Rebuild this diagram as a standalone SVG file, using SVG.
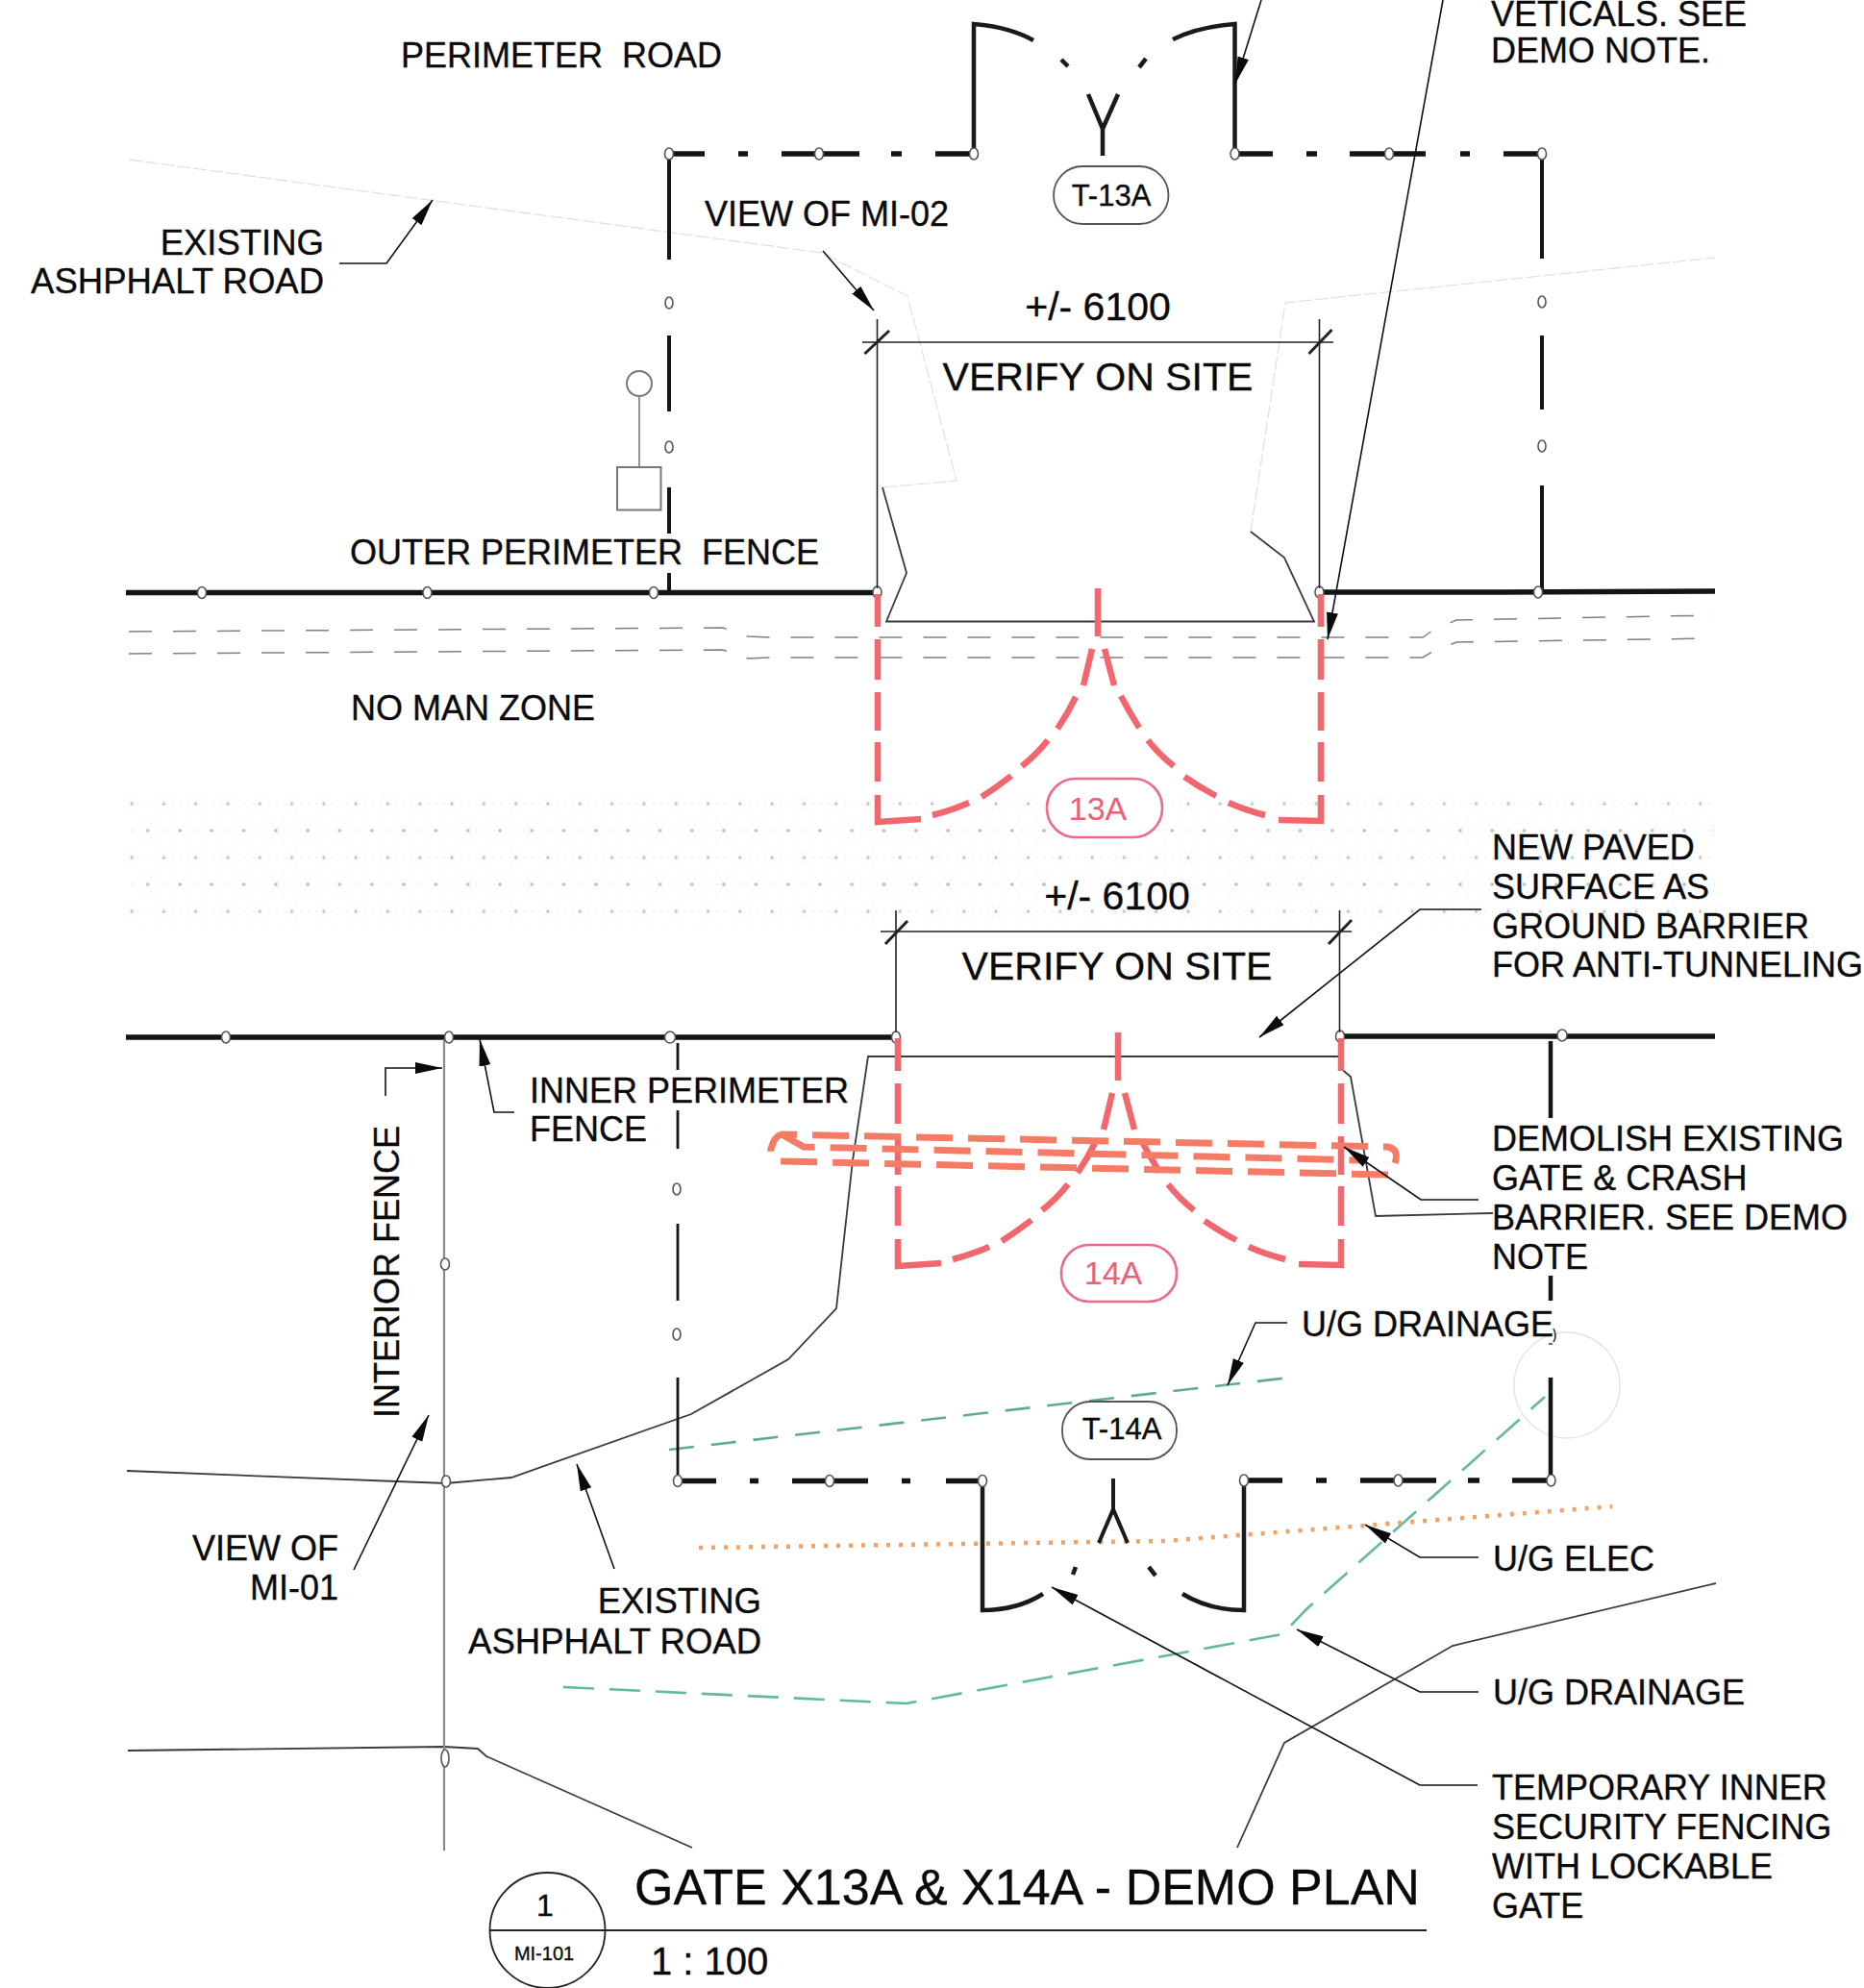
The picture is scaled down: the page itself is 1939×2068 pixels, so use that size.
<svg xmlns="http://www.w3.org/2000/svg" width="1939" height="2068" viewBox="0 0 1939 2068">
<style>
text{font-family:"Liberation Sans",Arial,sans-serif;font-size:36px;fill:#0a0a0a;stroke:#0a0a0a;stroke-width:.35;white-space:pre}
.e{text-anchor:end}.m{text-anchor:middle}
.fence{fill:none;stroke:#141414;stroke-width:5.5}
.gate{fill:none;stroke:#1a1a1a;stroke-width:4.5}
.thin{fill:none;stroke:#222;stroke-width:1.6}
.lead{fill:none;stroke:#111;stroke-width:1.6;marker-end:url(#ah)}
.road{fill:none;stroke:#3a3a3a;stroke-width:1.8}
.faint{fill:none;stroke:#e2e2e2;stroke-width:1.3;stroke-dasharray:14 3}
.ns{fill:none;stroke:#808080;stroke-width:1.5;stroke-dasharray:24 22}
.n{fill:#fff;stroke:#555;stroke-width:1.6}
.red{fill:none;stroke:#f2666e;stroke-width:6.5}
.band{fill:none;stroke:#f47c66;stroke-width:7;stroke-dasharray:38 16}
.pill{fill:#fff;stroke:#555;stroke-width:1.8}
.rp{fill:#fff;stroke:#ec6c86;stroke-width:2.6}
.rt{fill:#ec5f7a;stroke:none;font-size:34px}
</style>
<defs>
<marker id="ah" markerUnits="userSpaceOnUse" markerWidth="32" markerHeight="16" refX="28" refY="6" orient="auto"><path d="M0 0L28 6L0 12Z" fill="#0a0a0a"/></marker>
<pattern id="hatch" patternUnits="userSpaceOnUse" x="137" y="836" width="33.3" height="56">
<path d="M0 0L16.65 28L33.3 0M0 56L16.65 28L33.3 56" fill="none" stroke="#f7f7f7" stroke-width="1"/>
<path d="M0 0H33.3M0 28H33.3M0 56H33.3" fill="none" stroke="#ececec" stroke-width="1" stroke-dasharray="3 5"/>
<path d="M0 -2V2M33.3 -2V2M0 54V58M33.3 54V58M16.65 26V30M-2 0H2M31.3 0H35.3M14.65 28H18.65" fill="none" stroke="#bcbcbc" stroke-width="1.3"/>
</pattern>
<g id="redgate">
<path class="red" d="M913 618V652M913 665V707M913 720V760M913 772V813M913 827V855L958 852"/>
<path class="red" d="M1374 618V652M1374 665V707M1374 720V760M1374 772V813M1374 827V854L1330 853"/>
<path class="red" d="M1142 612V662M1136 675L1127 713M1149 675L1159 713"/>
<path class="red" d="M1119 725Q1111 742 1100 758M1090 770Q1078 785 1063 797M1052 807Q1037 819 1021 829M1008 835Q990 843 970 848"/>
<path class="red" d="M1166 724Q1175 741 1185 757M1194 770Q1206 785 1221 797M1232 808Q1248 819 1265 828M1278 835Q1296 843 1316 848"/>
</g>
</defs>
<rect width="1939" height="2068" fill="#fff"/>

<g id="hatch-zone"><rect x="131" y="825" width="1653" height="138" fill="url(#hatch)"/></g>

<g id="roads">
<path class="faint" d="M134 166L855 263L944 308L995 500L918 507"/>
<path class="faint" d="M1301 553L1337 315L1784 268"/>
<path class="road" d="M918 507L943 596L922 646.5H1367L1336 580L1301 553"/>
<path class="ns" d="M134 657L752 653L778 662L800 663H1480L1490 656L1515 645L1784 640"/>
<path class="ns" d="M134 680L752 676L778 685L800 684H1480L1490 678L1515 668L1784 664"/>
<path class="road" d="M132 1530L464 1543L532 1537L719 1471L820 1414L870 1361L887 1207L903 1099H1393"/>
<path class="road" d="M1393 1099V1110L1405 1120L1431 1265L1553 1262"/>
<path class="road" d="M133 1821L462 1817L497 1819L506 1827L720 1922"/>
<path class="road" d="M1785 1647L1511 1712L1336 1813L1287 1922"/>
<circle cx="1630" cy="1441" r="55" class="faint" style="stroke-dasharray:none"/>
<path d="M696 1508L1341 1433" fill="none" stroke="#5fae88" stroke-width="2.6" stroke-dasharray="26 18"/>
<path d="M586 1755L943 1772L1334 1700L1360 1673L1607 1453" fill="none" stroke="#62b8a0" stroke-width="2.6" stroke-dasharray="32 16"/>
<path d="M727 1610L1211 1603L1677 1567" fill="none" stroke="#f2a264" stroke-width="4.5" stroke-dasharray="4 9"/>
</g>

<g id="light-pole">
<circle cx="665" cy="399" r="13" fill="#fff" stroke="#777" stroke-width="2"/>
<path d="M665 412V486" fill="none" stroke="#888" stroke-width="1.8"/>
<rect x="642" y="486" width="45.5" height="44.5" fill="#fff" stroke="#777" stroke-width="2"/>
</g>

<g id="outer-fence">
<path class="fence" d="M131 616.5H912M1372 616H1560L1784 615"/>
<path class="fence" style="stroke-width:4" d="M696 160V270M696 349V428M696 507V555M696 596V616M1604 160V269M1604 349V426M1604 505V616"/>
<path class="fence" d="M696 160H733M768 160H778M813 160H894M927 160H938M973 160H1013M1285 160H1324M1359 160H1370M1404 160H1483M1519 160H1529M1564 160H1604"/>
<path class="gate" d="M1013 160V25Q1050 28 1075 42M1284.5 160V25Q1246 28 1220 41M1104 62L1111 69M1192 61L1185 70"/>
<path d="M1132 98L1147 134V162M1163 98L1147 134" fill="none" stroke="#1a1a1a" stroke-width="4.5"/>
<g id="outer-fence-posts">
<ellipse class="n" cx="696" cy="160" rx="4.5" ry="6"/><ellipse class="n" cx="852" cy="160" rx="4.5" ry="6"/><ellipse class="n" cx="1013" cy="160" rx="4.5" ry="6"/><ellipse class="n" cx="1284.5" cy="160" rx="4.5" ry="6"/><ellipse class="n" cx="1445" cy="160" rx="4.5" ry="6"/><ellipse class="n" cx="1604" cy="160" rx="4.5" ry="6"/>
<ellipse class="n" cx="696" cy="315" rx="4" ry="6"/><ellipse class="n" cx="696" cy="465" rx="4" ry="6"/><ellipse class="n" cx="1604" cy="314" rx="4" ry="6"/><ellipse class="n" cx="1604" cy="464" rx="4" ry="6"/>
<ellipse class="n" cx="210" cy="616.5" rx="4.5" ry="6"/><ellipse class="n" cx="444.5" cy="616.5" rx="4.5" ry="6"/><ellipse class="n" cx="680" cy="616.5" rx="4.5" ry="6"/><ellipse class="n" cx="912.5" cy="616" rx="4.5" ry="6"/><ellipse class="n" cx="1372.5" cy="616" rx="4.5" ry="6"/><ellipse class="n" cx="1600" cy="616" rx="4.5" ry="6"/>
</g>
</g>

<g id="inner-fence">
<path class="fence" d="M131 1079H932M1394 1078H1784"/>
<path class="fence" style="stroke-width:2.8" d="M705 1085V1113M705 1155V1195M705 1273V1353M705 1433V1540"/>
<path class="fence" style="stroke-width:4.5" d="M1613 1083V1163M1613 1327V1353M1613 1433V1540"/>
<path d="M1616 1382Q1620 1390 1616 1396M1611 1398H1615" fill="none" stroke="#333" stroke-width="1.6"/>
<path class="fence" d="M705 1540.5H745M780 1540.5H789M824 1540.5H903M938 1540.5H947M984 1540.5H1022M1294 1540H1334M1369 1540H1380M1415 1540H1494M1527 1540H1539M1573 1540H1613"/>
<path class="gate" d="M1022 1540V1675Q1058 1675 1085 1658M1294 1540V1675Q1258 1675 1230 1658M1116 1638L1119 1630M1195 1630L1202 1639"/>
<path d="M1158 1538V1570L1143 1605M1158 1570L1173 1605" fill="none" stroke="#1a1a1a" stroke-width="4"/>
<path d="M462 1081V1925" fill="none" stroke="#8a8a8a" stroke-width="2.2"/>
<g id="inner-fence-posts">
<ellipse class="n" cx="235" cy="1079" rx="4.5" ry="6"/><ellipse class="n" cx="467" cy="1079" rx="4.5" ry="6"/><ellipse class="n" cx="697" cy="1079" rx="5.5" ry="6"/><ellipse class="n" cx="932" cy="1079" rx="4.5" ry="6"/><ellipse class="n" cx="1394" cy="1078" rx="4.5" ry="6"/><ellipse class="n" cx="1625" cy="1077" rx="5" ry="6"/>
<ellipse class="n" cx="704" cy="1237" rx="4" ry="6"/><ellipse class="n" cx="704" cy="1388" rx="4" ry="6"/><ellipse class="n" cx="463" cy="1315" rx="4.5" ry="6"/><ellipse class="n" cx="464" cy="1541" rx="4.5" ry="6"/><ellipse class="n" cx="463" cy="1829" rx="4" ry="9"/>
<ellipse class="n" cx="705" cy="1540.5" rx="4.5" ry="6"/><ellipse class="n" cx="863" cy="1540.5" rx="4.5" ry="6"/><ellipse class="n" cx="1022" cy="1540.5" rx="4.5" ry="6"/><ellipse class="n" cx="1294" cy="1540" rx="4.5" ry="6"/><ellipse class="n" cx="1454.5" cy="1540" rx="4.5" ry="6"/><ellipse class="n" cx="1613.5" cy="1540" rx="4.5" ry="6"/>
</g>
</g>

<g id="dimensions">
<path class="thin" d="M897 356H1387M912.5 332V612M1372.5 332V612M916 969H1406M932 947V1074M1393.5 947V1074"/>
<path class="thin" style="stroke-width:3" d="M899.5 368L925 344M1361.5 368L1385.5 343M921 982L944 958M1382 982L1406 957"/>
</g>

<g id="gate-13a-demo">
<use href="#redgate"/>
</g>
<g id="gate-14a-demo">
<use href="#redgate" transform="translate(21 462)"/>
<path class="band" d="M1444 1222L811 1208Q798 1203 803 1192Q806 1182 813 1180L1444 1193Q1456 1196 1451 1210"/>
<path class="band" d="M813 1180L836 1193L1418 1207"/>
</g>

<g id="tag-t13a"><rect class="pill" x="1096" y="173" width="119.5" height="60" rx="30"/><text class="m" style="font-size:31px" x="1156" y="214">T-13A</text></g>
<g id="tag-13a"><rect class="rp" x="1089" y="810" width="120" height="61" rx="30"/><text class="m rt" x="1142" y="853">13A</text></g>
<g id="tag-14a"><rect class="rp" x="1104" y="1295" width="120" height="59" rx="29"/><text class="m rt" x="1158" y="1336">14A</text></g>
<g id="tag-t14a"><rect class="pill" x="1105" y="1458" width="119" height="60" rx="29"/><text class="m" style="font-size:31px" x="1167" y="1497">T-14A</text></g>

<g id="connectors">
<path class="lead" d="M1312 0L1285 87"/>
<path class="lead" d="M1501 0L1381 665"/>
<path class="lead" d="M353 274H402L450 208"/>
<path class="lead" d="M856 261L909 323"/>
<path class="lead" d="M1541 946H1477L1310 1079"/>
<path class="lead" d="M401 1140V1111H460"/>
<path class="lead" d="M535 1157H514L499 1081"/>
<path class="lead" d="M1538 1248H1478L1398 1193"/>
<path class="lead" d="M1339 1376H1306L1277 1441"/>
<path class="lead" d="M368 1633L446 1472"/>
<path class="lead" d="M639 1632L600 1523"/>
<path class="lead" d="M1538 1620H1477L1420 1586"/>
<path class="lead" d="M1538 1760H1477L1349 1695"/>
<path class="lead" d="M1537 1857H1477L1094 1651"/>
</g>

<g id="labels">
<text x="417" y="70">PERIMETER  ROAD</text>
<text x="1551" y="27">VETICALS. SEE</text>
<text x="1551" y="65">DEMO NOTE.</text>
<text x="733" y="235">VIEW OF MI-02</text>
<text class="e" style="font-size:36.5px" x="337" y="265">EXISTING</text>
<text class="e" style="font-size:36.5px" x="337" y="305">ASHPHALT ROAD</text>
<text class="m" style="font-size:41px" x="1142" y="333">+/- 6100</text>
<text class="m" style="font-size:41px" x="1142" y="406">VERIFY ON SITE</text>
<text x="364" y="587">OUTER PERIMETER  FENCE</text>
<text x="365" y="749">NO MAN ZONE</text>
<text x="1552" y="894">NEW PAVED</text>
<text x="1552" y="935">SURFACE AS</text>
<text x="1552" y="976">GROUND BARRIER</text>
<text x="1552" y="1016">FOR ANTI-TUNNELING</text>
<text class="m" style="font-size:41px" x="1162" y="946">+/- 6100</text>
<text class="m" style="font-size:41px" x="1162" y="1019">VERIFY ON SITE</text>
<text x="551" y="1147">INNER PERIMETER</text>
<text x="551" y="1187">FENCE</text>
<text x="1552" y="1197">DEMOLISH EXISTING</text>
<text x="1552" y="1238">GATE &amp; CRASH</text>
<text x="1552" y="1279">BARRIER. SEE DEMO</text>
<text x="1552" y="1320">NOTE</text>
<text x="1354" y="1390">U/G DRAINAGE</text>
<text transform="translate(415 1475) rotate(-90)">INTERIOR FENCE</text>
<text class="e" x="352" y="1623">VIEW OF</text>
<text class="e" x="352" y="1664">MI-01</text>
<text class="e" style="font-size:36.5px" x="792" y="1678">EXISTING</text>
<text class="e" style="font-size:36.5px" x="792" y="1720">ASHPHALT ROAD</text>
<text x="1553" y="1634">U/G ELEC</text>
<text x="1553" y="1773">U/G DRAINAGE</text>
<text x="1552" y="1872">TEMPORARY INNER</text>
<text x="1552" y="1913">SECURITY FENCING</text>
<text x="1552" y="1954">WITH LOCKABLE</text>
<text x="1552" y="1995">GATE</text>
</g>

<g id="title-block">
<circle cx="569.5" cy="2008" r="60" fill="none" stroke="#222" stroke-width="1.8"/>
<path d="M509 2008H1484" fill="none" stroke="#222" stroke-width="1.8"/>
<text class="m" style="font-size:32px" x="567" y="1993">1</text>
<text class="m" style="font-size:20px" x="566" y="2039">MI-101</text>
<text style="font-size:52px" x="660" y="1981">GATE X13A &amp; X14A - DEMO PLAN</text>
<text style="font-size:40px" x="677" y="2054">1 : 100</text>
</g>
</svg>
